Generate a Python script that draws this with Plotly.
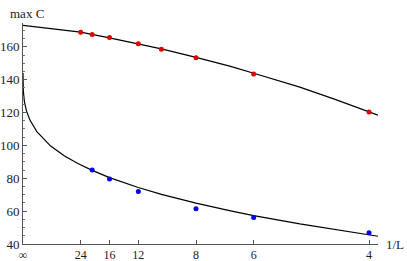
import plotly.graph_objects as go

# data points (x = 1/L)
red_L = [24, 20, 16, 12, 10, 8, 6, 4]
red_maxC = [168.8, 167.5, 165.7, 161.8, 158.6, 153.3, 143.5, 120.4]
blue_L = [20, 16, 12, 8, 6, 4]
blue_maxC = [85.1, 79.6, 72.0, 61.4, 56.1, 46.9]

red_fit_x = [0, 0.02, 0.04167, 0.0625, 0.0833, 0.1, 0.125, 0.15, 0.1667, 0.2, 0.225, 0.25, 0.2565]
red_fit_y = [173.0, 170.9, 169.0, 165.4, 161.8, 158.8, 153.6, 148.1, 143.9, 135.5, 128.2, 120.4, 118.4]
blue_fit_x = [0, 0.0002, 0.001, 0.0025, 0.005, 0.01, 0.02, 0.03, 0.04, 0.05, 0.0625,
              0.0833, 0.1, 0.125, 0.15, 0.1667, 0.2, 0.225, 0.25, 0.2565]
blue_fit_y = [144.0, 133.6, 126.7, 121.0, 115.4, 108.4, 99.6, 93.6, 88.8, 84.8, 80.4,
              74.4, 70.2, 64.9, 60.2, 57.3, 52.2, 48.7, 45.5, 44.7]

tick_L = [None, 24, 16, 12, 8, 6, 4]
tick_text = ["∞", "24", "16", "12", "8", "6", "4"]
tick_vals = [0 if L is None else 1.0 / L for L in tick_L]

fig = go.Figure()
fig.add_trace(go.Scatter(x=red_fit_x, y=red_fit_y, mode="lines",
                         line=dict(color="black", width=1.2), hoverinfo="skip"))
fig.add_trace(go.Scatter(x=blue_fit_x, y=blue_fit_y, mode="lines",
                         line=dict(color="black", width=1.2), hoverinfo="skip"))
fig.add_trace(go.Scatter(x=[1.0 / L for L in red_L], y=red_maxC, mode="markers",
                         marker=dict(color="#e00000", size=5)))
fig.add_trace(go.Scatter(x=[1.0 / L for L in blue_L], y=blue_maxC, mode="markers",
                         marker=dict(color="#0000ee", size=5)))

font = dict(family="Liberation Serif", size=13, color="#222")
xfont = dict(family="Liberation Serif", size=12, color="#222")
fig.update_layout(
    width=407, height=261,
    margin=dict(l=23, r=29, t=23, b=17, autoexpand=False),
    paper_bgcolor="white", plot_bgcolor="white",
    showlegend=False, font=font,
    xaxis=dict(range=[0, 0.2565], showgrid=False, zeroline=False, automargin=False,
               showline=True, linecolor="#555", linewidth=1,
               ticks="inside", ticklen=4, tickcolor="#555", tickwidth=1,
               tickmode="array", tickvals=tick_vals, ticktext=tick_text,
               tickfont=xfont),
    yaxis=dict(range=[40, 174.5], showgrid=False, zeroline=False, automargin=False,
               showline=True, linecolor="#555", linewidth=1,
               ticks="inside", ticklen=4, tickcolor="#555", tickwidth=1,
               tickmode="array", tickvals=[40, 60, 80, 100, 120, 140, 160],
               minor=dict(dtick=5, ticks="inside", ticklen=2, tickcolor="#777", showgrid=False),
               tickfont=font),
    annotations=[
        dict(text="max C", x=-15 / 355, y=1 + 9 / 221, xref="paper", yref="paper",
             xanchor="left", yanchor="middle", showarrow=False, font=font),
        dict(text="1/L", x=1 + 6 / 355, y=0, xref="paper", yref="paper",
             xanchor="left", yanchor="middle", showarrow=False, font=font),
    ],
)
fig.write_html("out.html", config={"displayModeBar": False},
               post_script="document.body.style.margin='0';document.body.style.padding='0';")
